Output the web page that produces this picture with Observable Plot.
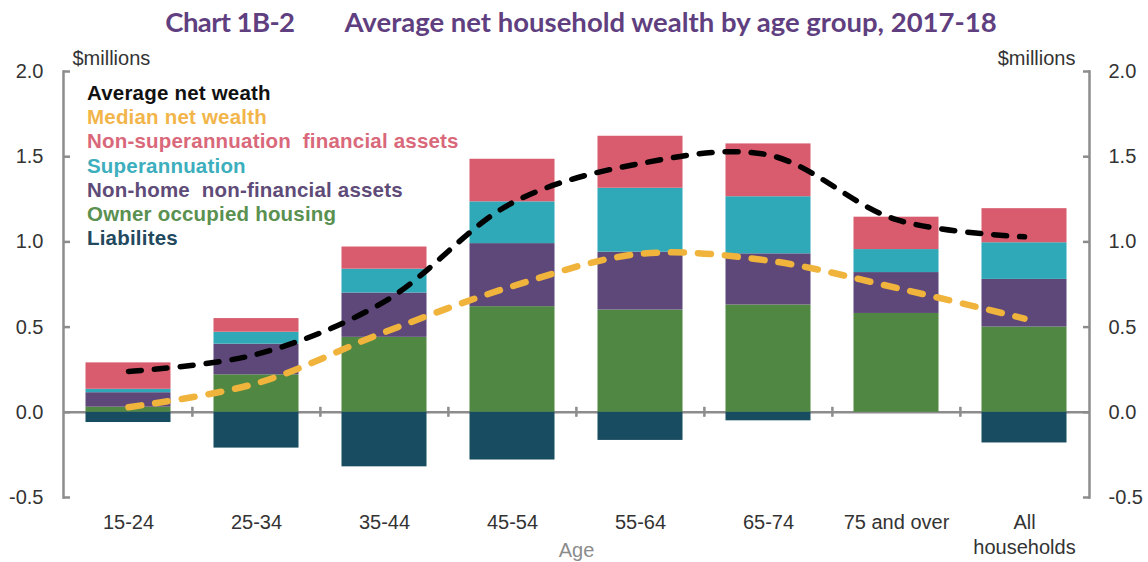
<!DOCTYPE html>
<html>
<head>
<meta charset="utf-8">
<script src="https://cdn.jsdelivr.net/npm/d3@7"></script>
<script src="https://cdn.jsdelivr.net/npm/@observablehq/plot@0.6"></script>
<style>
  html, body { margin: 0; padding: 0; background: #fff; }
  #wrap { position: relative; width: 1148px; height: 562px; overflow: hidden; }
  #title { height: 40px; box-sizing: border-box; padding-top: 4px; padding-left: 14px; text-align: center;
           font-family: Lato, "Open Sans", sans-serif; font-weight: bold; font-size: 27.5px; line-height: 36px; color: #5f3f80; white-space: nowrap; }
  #title .num { margin-right: 50px; letter-spacing: -0.6px; }
  #legend { position: absolute; left: 87px; top: 81px; font-family: "Liberation Sans", Arial, sans-serif;
            font-weight: bold; font-size: 20.5px; line-height: 24.2px; letter-spacing: 0.2px; }
  #legend div { white-space: pre; }
</style>
</head>
<body>
<div id="wrap">
  <div id="title"><span class="num">Chart 1B-2</span><span>Average net household wealth by age group, 2017-18</span></div>
  <div id="chart"></div>
  <div id="legend"></div>
</div>
<script>
// ---- data ----
const ages = ["15-24", "25-34", "35-44", "45-54", "55-64", "65-74", "75 and over", "All households"];
const ownerOccupiedHousing = [0.03, 0.22, 0.44, 0.62, 0.60, 0.63, 0.58, 0.50];
const nonHomeNonFinancial  = [0.085, 0.18, 0.26, 0.37, 0.34, 0.30, 0.24, 0.28];
const superannuation       = [0.02, 0.07, 0.14, 0.245, 0.375, 0.335, 0.135, 0.215];
const nonSuperFinancial    = [0.155, 0.08, 0.13, 0.25, 0.305, 0.31, 0.19, 0.20];
const liabilities          = [-0.06, -0.21, -0.32, -0.28, -0.165, -0.05, 0, -0.18];
const averageNetWealth     = [0.24, 0.34, 0.65, 1.23, 1.46, 1.51, 1.13, 1.03];
const medianNetWealth      = [0.03, 0.17, 0.47, 0.74, 0.93, 0.89, 0.73, 0.55];
const yTicks = [-0.5, 0, 0.5, 1.0, 1.5, 2.0];

const seriesNames = ["Owner occupied housing", "Non-home  non-financial assets", "Superannuation", "Non-superannuation  financial assets", "Liabilites"];
const seriesColors = ["#508742", "#5e487a", "#2fa9b8", "#d95b6e", "#184c60"];
const legendItems = [
  ["Average net weath", "#111111"],
  ["Median net wealth", "#f2b54a"],
  ["Non-superannuation  financial assets", "#d9687a"],
  ["Superannuation", "#3caebd"],
  ["Non-home  non-financial assets", "#5e4b78"],
  ["Owner occupied housing", "#5a9050"],
  ["Liabilites", "#22495e"]
];

// ---- tables ----
const seriesValues = [ownerOccupiedHousing, nonHomeNonFinancial, superannuation, nonSuperFinancial, liabilities];
const stacked = [];
seriesNames.forEach((s, j) => ages.forEach((a, i) => stacked.push({age: a, series: s, value: seriesValues[j][i]})));
const avgRows = ages.map((a, i) => ({age: a, value: averageNetWealth[i]}));
const medRows = ages.map((a, i) => ({age: a, value: medianNetWealth[i]}));

const W = 1148, H = 522;
const mL = 63, mR = 59, mT = 31, mB = 65;
const step = (W - mL - mR) / ages.length;
const axisGray = "#8c8c8c";

const chart = Plot.plot({
  width: W, height: H,
  marginLeft: mL, marginRight: mR, marginTop: mT, marginBottom: mB,
  style: {fontFamily: "'Liberation Sans', Arial, sans-serif", fontSize: "20px", color: "#333", background: "#fff"},
  x: {domain: ages, padding: 0},
  y: {domain: [-0.5, 2.0]},
  color: {domain: seriesNames, range: seriesColors},
  marks: [
    Plot.ruleY([0], {stroke: axisGray, strokeWidth: 2.5}),
    Plot.ruleX(ages.slice(1), {x: d => d, y1: 0, y2: 0, insetTop: -5, insetBottom: -5, dx: -step / 2, stroke: axisGray, strokeWidth: 2.5}),
    Plot.barY(stacked, Plot.stackY({x: "age", y: "value", fill: "series", order: seriesNames, insetLeft: 21.5, insetRight: 21.5})),
    Plot.line(avgRows, {x: "age", y: "value", curve: "catmull-rom", stroke: "#000", strokeWidth: 5.5, strokeDasharray: "13,13", strokeLinecap: "round"}),
    Plot.line(medRows, {x: "age", y: "value", curve: "catmull-rom", stroke: "#f0b43c", strokeWidth: 6.5, strokeDasharray: "13,14", strokeLinecap: "round"}),
    Plot.frame({anchor: "left", stroke: axisGray, strokeWidth: 2.5}),
    Plot.frame({anchor: "right", stroke: axisGray, strokeWidth: 2.5}),
    Plot.axisY({anchor: "left", ticks: yTicks, tickFormat: d => d.toFixed(1), tickSize: -7, tickPadding: 27, stroke: axisGray, strokeWidth: 2.5, label: null}),
    Plot.axisY({anchor: "right", ticks: yTicks, tickFormat: d => d.toFixed(1), tickSize: -7, tickPadding: 26, stroke: axisGray, strokeWidth: 2.5, label: null}),
    Plot.axisX({anchor: "bottom", tickSize: 0, tickPadding: 14, lineHeight: 1.25, tickFormat: d => d === "All households" ? "All\nhouseholds" : d, label: null}),
    Plot.text(["$millions"], {frameAnchor: "top-left", text: d => d, textAnchor: "start", lineAnchor: "middle", dx: 9, dy: -13, fill: "#333"}),
    Plot.text(["$millions"], {frameAnchor: "top-right", text: d => d, textAnchor: "end", lineAnchor: "middle", dx: -14, dy: -13, fill: "#333"}),
    Plot.text(["Age"], {frameAnchor: "bottom", text: d => d, lineAnchor: "middle", dy: 53, fill: "#8c8c8c"})
  ]
});
document.getElementById("chart").appendChild(chart);

const leg = document.getElementById("legend");
legendItems.forEach(([t, c]) => {
  const d = document.createElement("div");
  d.textContent = t;
  d.style.color = c;
  leg.appendChild(d);
});
</script>
</body>
</html>
